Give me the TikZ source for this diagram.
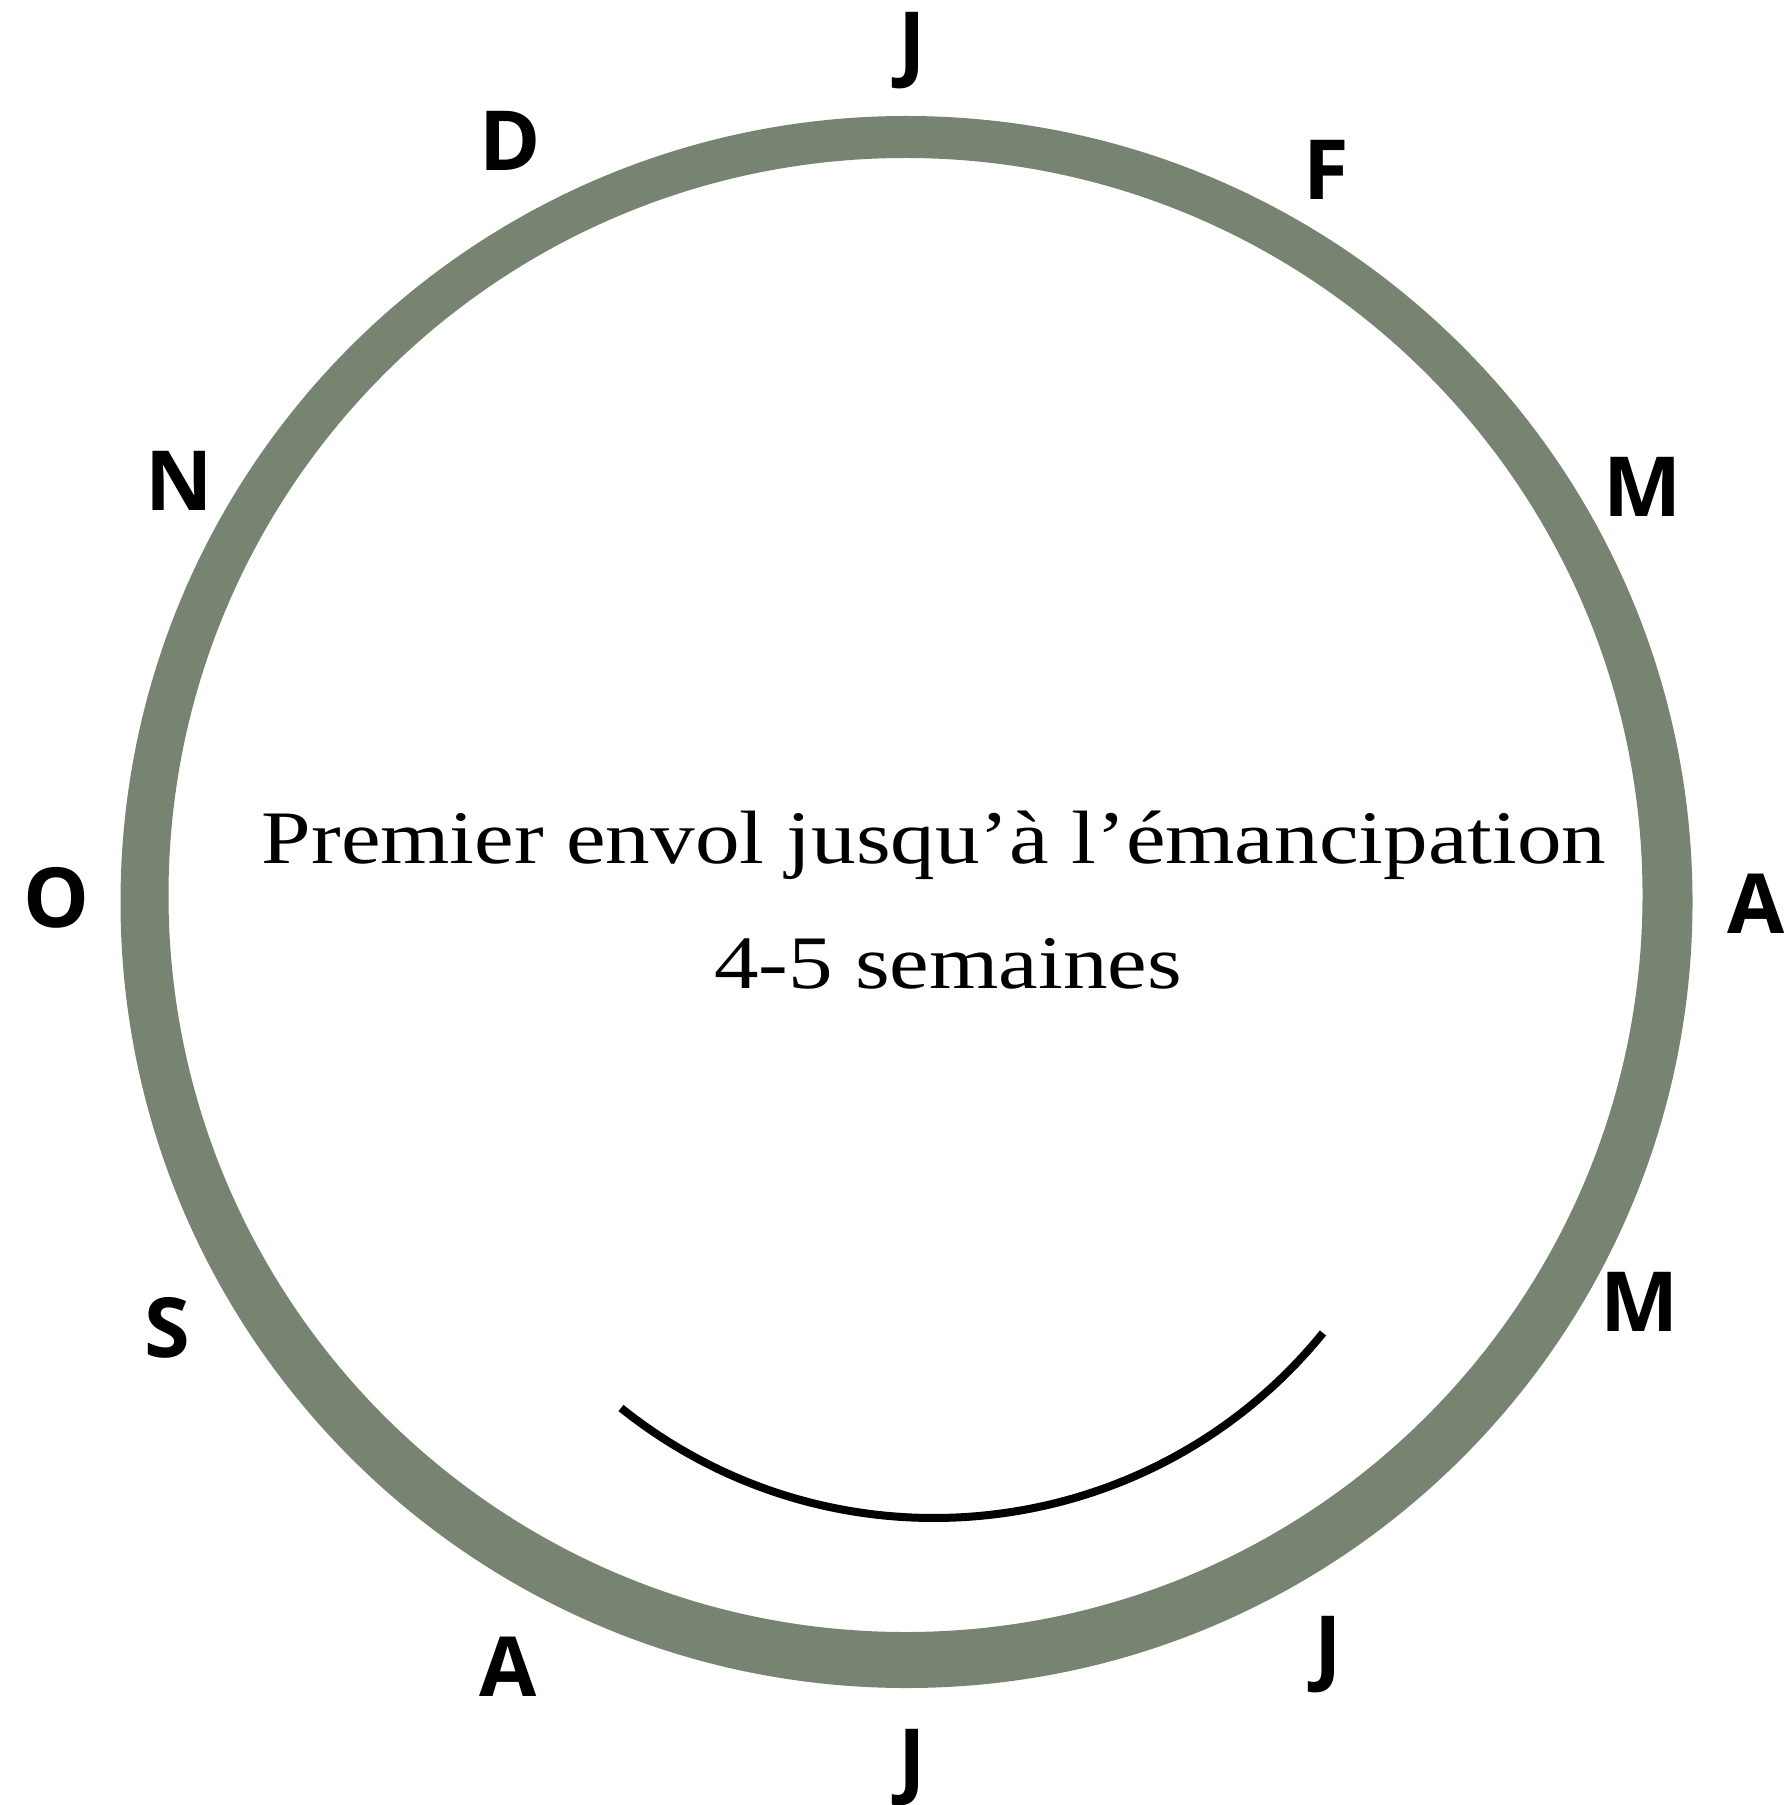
\documentclass[tikz,border=0pt]{standalone}
\usepackage{fontspec}
\usepackage{xcolor}
\setmainfont[FakeStretch=1.18]{Liberation Serif}
\newfontfamily\monthfont{Open Sans}
\definecolor{ringgreen}{HTML}{778472}
\tikzset{
 month/.style={font=\monthfont\bfseries\fontsize{23.6}{28}\selectfont, anchor=base},
 caption/.style={font=\fontsize{21.5}{26}\selectfont, anchor=base}
}

\begin{document}
\begin{tikzpicture}
 \useasboundingbox (0,0) rectangle (17.91,-18.05);
 \coordinate (outer) at (9.065,-9.02);
 \coordinate (inner) at (9.055,-8.95);
 \coordinate (Q) at (9.342,-10.17);

 \fill[ringgreen, even odd rule] (outer) circle (7.86) (inner) circle (7.37);
 \draw[black, line width=0.08cm] ([shift={(231.3:5.01)}]Q) arc[start angle=231.3, end angle=320.9, radius=5.01];

 \node[month] (jan) at (9.12,-0.72) {J};
 \node[month] (feb) at (13.26,-2.00) {F};
 \node[month] (mar) at (16.43,-5.17) {M};
 \node[month] (apr) at (17.56,-9.33) {A};
 \node[month] (may) at (16.40,-13.31) {M};
 \node[month] (jun) at (13.28,-16.75) {J};
 \node[month] (jul) at (9.12,-17.88) {J};
 \node[month] (aug) at (5.08,-16.96) {A};
 \node[month] (sep) at (1.67,-13.57) {S};
 \node[month] (oct) at (0.57,-9.27) {O};
 \node[month] (nov) at (1.79,-5.11) {N};
 \node[month] (dec) at (5.10,-1.71) {D};

 \node[caption] (title) at (9.34,-8.63) {Premier envol jusqu’à l’émancipation};
 \node[caption] (weeks) at (9.48,-9.88) {4-5 semaines};

\end{tikzpicture}
\end{document}
